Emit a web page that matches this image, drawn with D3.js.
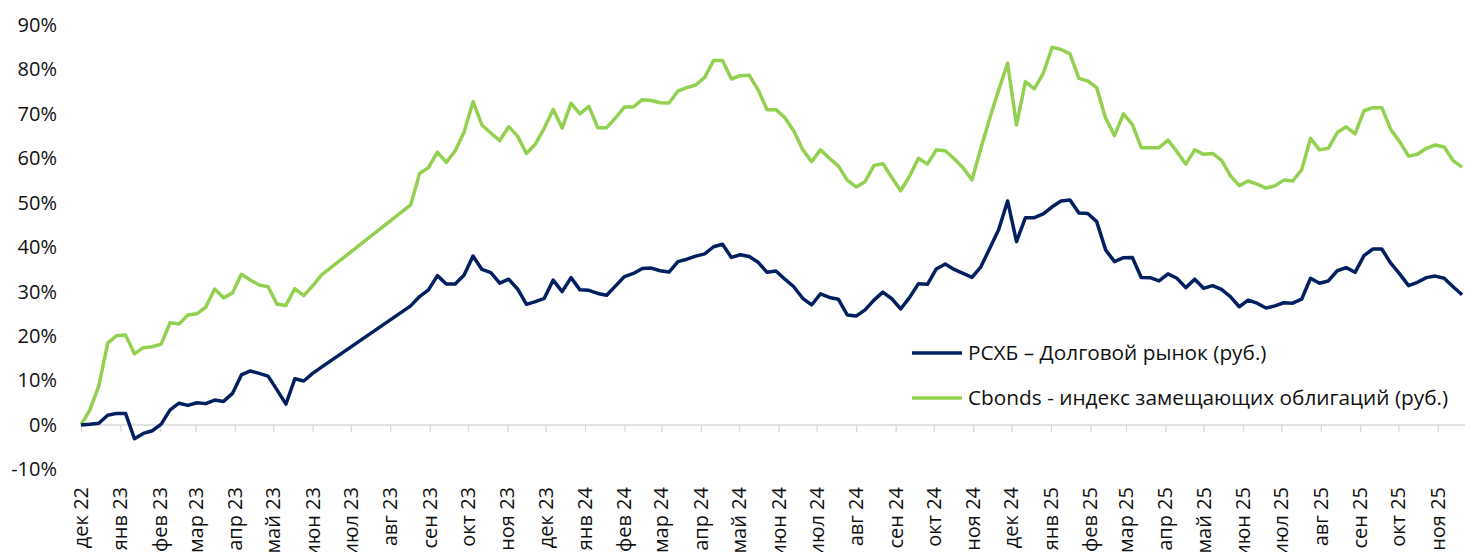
<!DOCTYPE html>
<html><head><meta charset="utf-8">
<script src="https://cdn.jsdelivr.net/npm/d3@7"></script>
<style>
html,body{margin:0;padding:0;background:#fff;overflow:hidden}
svg{display:block;font-family:"Open Sans",sans-serif}
</style></head><body>
<svg id="chart" width="1465" height="552"></svg>
<script>
// ---- data ----
const startDate = "2022-12-01";           // first weekly observation
const stepDays = 7;                        // weekly data
const rshbValues = [
 0,0.15,0.4,2.2,2.6,2.6,-3.1,-1.9,-1.3,0.2,
 3.4,4.9,4.4,5.0,4.8,5.6,5.3,7.1,11.25,12.15,
 11.6,11.0,7.9,4.7,10.4,9.9,11.6,13.0,null,null,
 null,null,null,null,null,null,null,26.8,28.9,30.4,
 33.6,31.7,31.7,33.75,38.0,35.0,34.3,31.9,32.8,30.6,
 27.15,27.75,28.5,32.6,30.0,33.15,30.4,30.3,29.6,29.2,
 31.3,33.4,34.1,35.2,35.3,34.7,34.4,36.75,37.3,38.0,
 38.5,40.1,40.65,37.7,38.3,37.9,36.6,34.35,34.65,32.8,
 31.1,28.5,27.0,29.5,28.7,28.3,24.75,24.5,25.9,28.1,
 29.9,28.4,26.1,28.7,31.8,31.65,35.1,36.2,35.0,34.1,
 33.2,35.6,39.75,44.0,50.4,41.25,46.65,46.65,47.5,49.1,
 50.4,50.6,47.7,47.6,45.75,39.4,36.75,37.65,37.7,33.2,
 33.15,32.4,34.0,33.0,30.9,32.8,30.75,31.35,30.5,28.9,
 26.6,28.1,27.4,26.3,26.8,27.5,27.4,28.3,33.0,31.9,
 32.4,34.7,35.4,34.35,38.1,39.6,39.6,36.4,34.0,31.35,
 32.1,33.15,33.5,33.0,31.1,29.3
];
const cbondsValues = [
 0,3.4,8.8,18.4,20.1,20.25,16.0,17.4,17.6,18.2,
 23.0,22.7,24.75,25.0,26.5,30.6,28.6,29.7,33.9,32.6,
 31.5,31.1,27.2,26.9,30.7,29.1,31.3,33.75,null,null,
 null,null,null,null,null,null,null,49.5,56.6,57.9,
 61.4,59.1,61.7,65.9,72.75,67.5,65.7,64.0,67.1,65.0,
 61.1,63.2,66.8,71.0,66.8,72.4,70.0,71.7,66.9,66.9,
 69.1,71.55,71.55,73.2,73.0,72.5,72.45,75.15,75.9,76.5,
 78.2,82.0,82.0,77.85,78.6,78.7,75.4,70.95,70.95,69.15,
 66.15,62.0,59.25,61.9,60.0,58.3,55.1,53.55,54.75,58.4,
 58.8,55.7,52.7,56.0,60.0,58.7,61.9,61.7,59.9,57.9,
 55.1,62.25,69.0,75.4,81.4,67.5,77.25,75.6,79.1,85.0,
 84.5,83.5,78.0,77.4,75.9,69.0,65.1,70.0,67.65,62.4,
 62.4,62.4,64.1,61.5,58.7,61.9,60.9,61.1,59.6,56.1,
 53.85,54.9,54.2,53.3,53.8,55.1,54.9,57.4,64.5,61.9,
 62.25,65.8,67.1,65.5,70.7,71.4,71.4,66.5,63.75,60.5,
 60.9,62.25,63.0,62.55,59.5,58.0
];
const monthLabels = [
 "дек 22","янв 23","фев 23","мар 23","апр 23","май 23","июн 23","июл 23","авг 23","сен 23","окт 23","ноя 23",
 "дек 23","янв 24","фев 24","мар 24","апр 24","май 24","июн 24","июл 24","авг 24","сен 24","окт 24","ноя 24",
 "дек 24","янв 25","фев 25","мар 25","апр 25","май 25","июн 25","июл 25","авг 25","сен 25","окт 25","ноя 25"
];
const yTickValues = [-10,0,10,20,30,40,50,60,70,80,90];
const seriesNames = ["РСХБ – Долговой рынок (руб.)","Cbonds - индекс замещающих облигаций (руб.)"];

// ---- styles ----
const colors = ["#002060","#92D050"];
const W = 1465, H = 552;
const plotLeft = 81, plotRight = 1462, plotTop = 25, plotBottom = 469.4;

const svg = d3.select("#chart");
const parse = d3.timeParse("%Y-%m-%d");
const start = parse(startDate);
const dates = rshbValues.map((_, i) => d3.timeDay.offset(start, i * stepDays));
const lastDate = dates[dates.length - 1];

const x = d3.scaleTime().domain([start, lastDate]).range([plotLeft, plotRight]);
const y = d3.scaleLinear().domain([-10, 90]).range([plotBottom, plotTop]);

// y labels
const yAxis = svg.append("g").attr("transform", `translate(57,0)`)
  .call(d3.axisLeft(y).tickValues(yTickValues).tickSize(0).tickPadding(0).tickFormat(d => d + "%"));
yAxis.select(".domain").remove();
yAxis.selectAll("text").attr("font-size", 20).attr("fill", "#111").attr("font-family", '"Open Sans",sans-serif');

// x axis at 0
const monthTicks = d3.timeMonth.range(start, d3.timeDay.offset(lastDate, 1));
const xAxis = svg.append("g").attr("transform", `translate(0,${y(0)})`)
  .call(d3.axisBottom(x).tickValues(monthTicks).tickSize(7).tickSizeOuter(0).tickFormat(""));
xAxis.select(".domain").remove();
xAxis.selectAll("line").attr("stroke", "#d9d9d9").attr("stroke-width", 1.3);
svg.append("line").attr("x1", plotLeft).attr("x2", W).attr("y1", y(0)).attr("y2", y(0))
  .attr("stroke", "#d9d9d9").attr("stroke-width", 1.5);

// x labels (rotated)
svg.append("g").selectAll("text").data(monthTicks).join("text")
  .attr("transform", d => `translate(${x(d)},487) rotate(-90)`)
  .attr("text-anchor", "end").attr("dy", "0.35em")
  .attr("font-size", 20).attr("fill", "#111")
  .text((d, i) => monthLabels[i]);

// lines
const series = [rshbValues, cbondsValues];
const line = d3.line().x(d => x(d.date)).y(d => y(d.v));
[1, 0].forEach(k => {
  const pts = series[k].map((v, i) => ({date: dates[i], v})).filter(d => d.v !== null);
  svg.append("path").datum(pts).attr("d", line)
    .attr("fill", "none").attr("stroke", colors[k]).attr("stroke-width", 3.5)
    .attr("stroke-linejoin", "round").attr("stroke-linecap", "butt");
});

// legend
const legY = [353, 398];
const leg = svg.append("g");
seriesNames.forEach((name, k) => {
  leg.append("line").attr("x1", 912).attr("x2", 962).attr("y1", legY[k]).attr("y2", legY[k])
    .attr("stroke", colors[k]).attr("stroke-width", 3.5);
  leg.append("text").attr("x", 968).attr("y", legY[k]).attr("dy", "0.35em")
    .attr("font-size", 20.8).attr("fill", "#111").text(name);
});
</script>
</body></html>
